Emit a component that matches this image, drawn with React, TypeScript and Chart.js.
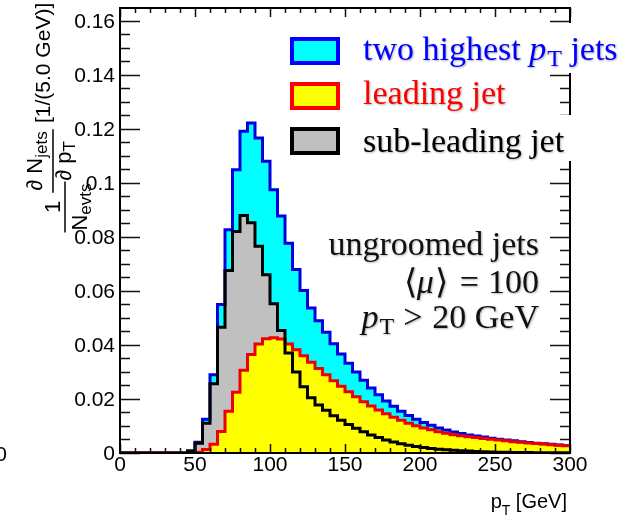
import React, { useEffect, useRef } from 'react';
import { Chart, registerables } from 'chart.js';

Chart.register(...registerables);

// Bin edges in GeV (5 GeV wide bins)
const binEdges = [
  0, 5, 10, 15, 20, 25, 30, 35, 40, 45, 50, 55, 60, 65, 70, 75, 80, 85, 90, 95,
  100, 105, 110, 115, 120, 125, 130, 135, 140, 145, 150, 155, 160, 165, 170, 175, 180, 185, 190, 195,
  200, 205, 210, 215, 220, 225, 230, 235, 240, 245, 250, 255, 260, 265, 270, 275, 280, 285, 290, 295, 300,
];

// 1/N_evts dN_jets/dpT per bin
const twoHighestJets = [
  0, 0, 0, 0, 0, 0, 0, 0, 0, 0.0007,
  0.0040, 0.0125, 0.0290, 0.0550, 0.0827, 0.1049, 0.1192, 0.1222, 0.1167, 0.1080,
  0.0975, 0.0878, 0.0777, 0.0680, 0.0602, 0.0537, 0.0490, 0.0447, 0.0405, 0.0367,
  0.0332, 0.0300, 0.0269, 0.0241, 0.0216, 0.0193, 0.0173, 0.0155, 0.0139, 0.0125,
  0.0113, 0.0103, 0.0093, 0.0085, 0.0078, 0.0072, 0.0067, 0.0063, 0.0059, 0.0055,
  0.0051, 0.0048, 0.0045, 0.0042, 0.0039, 0.0036, 0.0034, 0.0032, 0.0030, 0.0028,
];

const leadingJet = [
  0, 0, 0, 0, 0, 0, 0, 0, 0, 0,
  0.0003, 0.0013, 0.0032, 0.0080, 0.0155, 0.0225, 0.0306, 0.0365, 0.0404, 0.0423,
  0.0427, 0.0422, 0.0404, 0.0382, 0.0360, 0.0336, 0.0313, 0.0290, 0.0268, 0.0247,
  0.0227, 0.0208, 0.0190, 0.0174, 0.0159, 0.0145, 0.0132, 0.0121, 0.0110, 0.0101,
  0.0093, 0.0086, 0.0079, 0.0073, 0.0068, 0.0064, 0.0060, 0.0057, 0.0054, 0.0051,
  0.0048, 0.0045, 0.0042, 0.0040, 0.0037, 0.0035, 0.0033, 0.0031, 0.0029, 0.0027,
];

const subLeadingJet = [
  0, 0, 0, 0, 0, 0, 0, 0, 0, 0.0007,
  0.0036, 0.0110, 0.0256, 0.0466, 0.0676, 0.0820, 0.0880, 0.0853, 0.0766, 0.0660,
  0.0553, 0.0454, 0.0370, 0.0300, 0.0245, 0.0205, 0.0178, 0.0158, 0.0138, 0.0121,
  0.0106, 0.0092, 0.0079, 0.0067, 0.0057, 0.0048, 0.0041, 0.0034, 0.0029, 0.0024,
  0.0020, 0.0017, 0.0014, 0.0012, 0.0010, 0.0008, 0.0007, 0.0006, 0.0005, 0.0004,
  0.0003, 0.0003, 0.0002, 0.0002, 0.0002, 0.0001, 0.0001, 0.0001, 0.0001, 0.0001,
];

const xMajorTicks = [0, 50, 100, 150, 200, 250, 300];
const xTickLabels = ['0', '50', '100', '150', '200', '250', '300'];
const yMajorTicks = [0, 0.02, 0.04, 0.06, 0.08, 0.1, 0.12, 0.14, 0.16];
const yTickLabels = ['0', '0.02', '0.04', '0.06', '0.08', '0.1', '0.12', '0.14', '0.16'];

const X_MIN = 0;
const X_MAX = 300;
const Y_MAX = 0.1648;

const SANS = '"Liberation Sans", Arial, sans-serif';
const SERIF = '"Liberation Serif", "Times New Roman", serif';

// Turn per-bin values into an outline of horizontal/vertical segments
function histogramOutline(values: number[]) {
  const pts: { x: number; y: number }[] = [{ x: binEdges[0], y: 0 }];
  values.forEach((v, i) => {
    pts.push({ x: binEdges[i], y: v });
    pts.push({ x: binEdges[i + 1], y: v });
  });
  return pts;
}

type Run = { t: string; font: string; dy?: number; gap?: number };

function runsWidth(ctx: CanvasRenderingContext2D, runs: Run[]) {
  let w = 0;
  for (const r of runs) {
    ctx.font = r.font;
    w += ctx.measureText(r.t).width + (r.gap || 0);
  }
  return w;
}

function drawRuns(
  ctx: CanvasRenderingContext2D,
  runs: Run[],
  x: number,
  y: number,
  align: 'left' | 'right' | 'center'
) {
  const w = runsWidth(ctx, runs);
  let cx = align === 'left' ? x : align === 'right' ? x - w : x - w / 2;
  ctx.textAlign = 'left';
  ctx.textBaseline = 'alphabetic';
  for (const r of runs) {
    ctx.font = r.font;
    ctx.fillText(r.t, cx, y + (r.dy || 0));
    cx += ctx.measureText(r.t).width + (r.gap || 0);
  }
  return w;
}

const framePlugin = {
  id: 'rootFrame',
  afterDatasetsDraw(chart: any) {
    const ctx: CanvasRenderingContext2D = chart.ctx;
    const { left, right, top, bottom } = chart.chartArea;
    const xs = chart.scales.x;
    const ys = chart.scales.y;
    ctx.save();
    ctx.strokeStyle = '#111';
    ctx.lineWidth = 1.5;

    // y ticks (left and mirrored right), 4 subdivisions per major step
    const yStep = yMajorTicks[1] - yMajorTicks[0];
    const yMinor: number[] = [];
    for (let v = 0; v <= Y_MAX + 1e-9; v += yStep / 4) yMinor.push(Number(v.toFixed(4)));
    ctx.beginPath();
    for (const v of yMinor) {
      const isMajor = yMajorTicks.some((m) => Math.abs(m - v) < 1e-6);
      const len = isMajor ? 20 : 10;
      const py = Math.round(ys.getPixelForValue(v)) + 0.5;
      ctx.moveTo(left, py);
      ctx.lineTo(left + len, py);
      ctx.moveTo(right, py);
      ctx.lineTo(right - len, py);
    }
    // x ticks (bottom and mirrored top), 5 subdivisions per major step
    const xStep = xMajorTicks[1] - xMajorTicks[0];
    for (let v = X_MIN; v <= X_MAX; v += xStep / 5) {
      const isMajor = xMajorTicks.includes(v);
      const len = isMajor ? 9 : 5;
      const px = Math.round(xs.getPixelForValue(v)) + 0.5;
      ctx.moveTo(px, bottom);
      ctx.lineTo(px, bottom - len);
      ctx.moveTo(px, top);
      ctx.lineTo(px, top + len);
    }
    ctx.stroke();

    // frame
    ctx.lineWidth = 2;
    ctx.strokeStyle = '#000';
    ctx.strokeRect(left, top, right - left, bottom - top);

    // tick labels
    ctx.fillStyle = '#000';
    ctx.font = `21px ${SANS}`;
    ctx.textAlign = 'right';
    ctx.textBaseline = 'middle';
    yMajorTicks.forEach((v, i) => {
      ctx.fillText(yTickLabels[i], left - 5, ys.getPixelForValue(v) + 1);
    });
    ctx.textAlign = 'center';
    xMajorTicks.forEach((v, i) => {
      ctx.fillText(xTickLabels[i], xs.getPixelForValue(v), bottom + 12);
    });
    // neighbouring pad's label peeking in at the left edge
    ctx.textAlign = 'right';
    ctx.fillText('0', 7, bottom + 2);
    ctx.restore();
  },
  afterDraw(chart: any) {
    const ctx: CanvasRenderingContext2D = chart.ctx;
    ctx.save();

    // x-axis title
    ctx.fillStyle = '#000';
    drawRuns(
      ctx,
      [
        { t: 'p', font: `20px ${SANS}` },
        { t: 'T', font: `14px ${SANS}`, dy: 7 },
        { t: ' [GeV]', font: `20px ${SANS}` },
      ],
      567,
      508,
      'right'
    );

    // y-axis title, rotated
    ctx.save();
    ctx.rotate(-Math.PI / 2);
    const big = `22px ${SANS}`;
    const sub = `17px ${SANS}`;
    // 1 / N_evts
    ctx.textAlign = 'center';
    ctx.font = big;
    ctx.fillText('1', -207, 60);
    const wEv = drawRuns(ctx, [{ t: 'N', font: big }, { t: 'evts', font: sub, dy: 4 }], -207, 87, 'center');
    ctx.lineWidth = 1.5;
    ctx.strokeStyle = '#000';
    ctx.beginPath();
    ctx.moveTo(-207 - wEv / 2 - 2, 65);
    ctx.lineTo(-207 + wEv / 2 + 2, 65);
    ctx.stroke();
    // dN_jets / dp_T
    const wNum = drawRuns(
      ctx,
      [{ t: '\u2202 N', font: big }, { t: 'jets', font: sub, dy: 5 }],
      -161,
      42,
      'center'
    );
    drawRuns(ctx, [{ t: '\u2202 p', font: big }, { t: 'T', font: sub, dy: 4 }], -161, 71, 'center');
    ctx.beginPath();
    ctx.moveTo(-161 - wNum / 2 - 2, 53);
    ctx.lineTo(-161 + wNum / 2 + 2, 53);
    ctx.stroke();
    drawRuns(ctx, [{ t: '[1/(5.0 GeV)]', font: `21px ${SANS}` }], -123, 50, 'left');
    ctx.restore();

    // legend rows sit on white panels that hide part of the right axis
    ctx.fillStyle = '#fff';
    ctx.fillRect(282, 23, 355, 50);
    ctx.fillRect(282, 115, 291, 46);

    const rows = [
      { fill: '#00ffff', edge: '#0000ff', y: 37 },
      { fill: '#ffff00', edge: '#ff0000', y: 82 },
      { fill: '#c0c0c0', edge: '#000000', y: 127 },
    ];
    for (const r of rows) {
      ctx.fillStyle = r.fill;
      ctx.fillRect(291, r.y + 1, 48, 26);
      ctx.lineWidth = 4;
      ctx.strokeStyle = r.edge;
      ctx.strokeRect(292, r.y + 2, 46, 24);
    }

    ctx.shadowColor = 'rgba(0,0,0,0.3)';
    ctx.shadowBlur = 2;
    ctx.shadowOffsetX = 1;
    ctx.shadowOffsetY = 1;
    const rom = `34px ${SERIF}`;
    const ita = `italic 34px ${SERIF}`;
    const subR = `24px ${SERIF}`;

    ctx.fillStyle = '#0000ff';
    drawRuns(
      ctx,
      [
        { t: 'two highest ', font: rom },
        { t: 'p', font: ita, gap: 1 },
        { t: 'T', font: subR, dy: 6 },
        { t: ' jets', font: rom },
      ],
      363,
      60,
      'left'
    );
    ctx.fillStyle = '#ff0000';
    drawRuns(ctx, [{ t: 'leading jet', font: rom }], 363, 104, 'left');
    ctx.fillStyle = '#000';
    drawRuns(ctx, [{ t: 'sub-leading jet', font: rom }], 363, 152, 'left');

    ctx.fillStyle = '#111';
    drawRuns(ctx, [{ t: 'ungroomed jets', font: rom }], 539, 255, 'right');
    drawRuns(
      ctx,
      [
        { t: '\u27e8', font: rom },
        { t: '\u03bc', font: ita, gap: 1 },
        { t: '\u27e9', font: rom, gap: 12 },
        { t: '=', font: rom, gap: 9 },
        { t: '100', font: rom },
      ],
      539,
      293,
      'right'
    );
    drawRuns(
      ctx,
      [
        { t: 'p', font: ita, gap: 1 },
        { t: 'T', font: subR, dy: 6, gap: 9 },
        { t: '>', font: rom, gap: 10 },
        { t: '20 GeV', font: rom },
      ],
      539,
      328,
      'right'
    );
    ctx.restore();
  },
};

export default function App() {
  const canvasRef = useRef<HTMLCanvasElement | null>(null);

  useEffect(() => {
    const canvas = canvasRef.current;
    if (!canvas) return;

    const fillSet = (values: number[], color: string, order: number) => ({
      data: histogramOutline(values),
      borderWidth: 0,
      borderColor: 'rgba(0,0,0,0)',
      backgroundColor: color,
      fill: 'origin',
      pointRadius: 0,
      tension: 0,
      order,
    });
    const lineSet = (values: number[], color: string, order: number) => ({
      data: histogramOutline(values),
      borderWidth: 3,
      borderColor: color,
      borderJoinStyle: 'miter',
      fill: false,
      pointRadius: 0,
      tension: 0,
      order,
    });

    const chart = new Chart(canvas, {
      type: 'line',
      data: {
        datasets: [
          { label: 'two highest pT jets', ...fillSet(twoHighestJets, '#00ffff', 6) },
          { label: 'sub-leading jet', ...fillSet(subLeadingJet, '#c0c0c0', 5) },
          { label: 'leading jet', ...fillSet(leadingJet, '#ffff00', 4) },
          { label: 'two highest pT jets', ...lineSet(twoHighestJets, '#0000dd', 3) },
          { label: 'leading jet', ...lineSet(leadingJet, '#ee0000', 2) },
          { label: 'sub-leading jet', ...lineSet(subLeadingJet, '#000000', 1) },
        ] as any,
      },
      options: {
        animation: false,
        responsive: false,
        maintainAspectRatio: false,
        events: [],
        layout: { padding: { left: 120, right: 67, top: 8, bottom: 64 } },
        scales: {
          x: { type: 'linear', min: X_MIN, max: X_MAX, display: false },
          y: { type: 'linear', min: 0, max: Y_MAX, display: false },
        },
        plugins: {
          legend: { display: false },
          tooltip: { enabled: false },
        },
      } as any,
      plugins: [framePlugin],
    });

    return () => chart.destroy();
  }, []);

  return (
    <div style={{ position: 'absolute', left: 0, top: 0, width: 637, height: 517, background: '#fff' }}>
      <canvas ref={canvasRef} width={637} height={517} style={{ display: 'block' }} />
    </div>
  );
}
